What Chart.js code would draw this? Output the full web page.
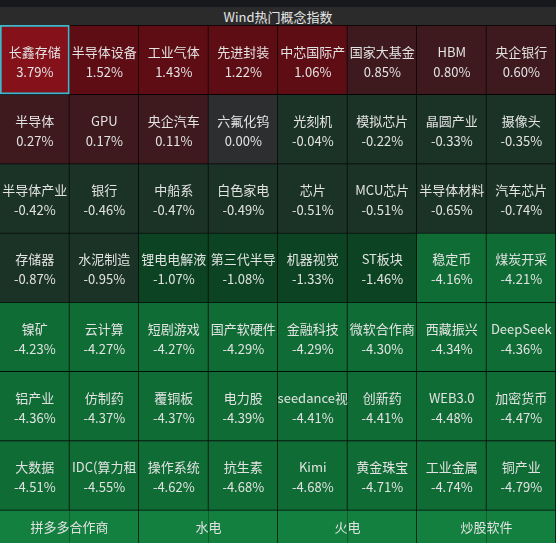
<!DOCTYPE html>
<html>
<head>
<meta charset="utf-8">
<script src="https://cdn.jsdelivr.net/npm/chart.js@4"></script>
<style>
html, body { margin: 0; padding: 0; background: #16181c; overflow: hidden; width: 556px; height: 543px; }
#strip { height: 7px; background: #16181c; }
#title { height: 18px; line-height: 18px; background: #2b2b2b; color: #e6e6e6; text-align: center;
  font: 13px "Noto Sans CJK SC", "Noto Sans", sans-serif; }
#wrap { position: absolute; left: 0; top: 25px; }
</style>
</head>
<body>
<div id="strip"></div>
<div id="title">Wind热门概念指数</div>
<div id="wrap"><canvas id="heat" width="556" height="518"></canvas></div>
<script>
// 8 columns, 7 full rows of concepts, then a short footer row of 4 wide cells
var columns = ['1', '2', '3', '4', '5', '6', '7', '8'];
var fullRows = 7;
var footerHeight = 0.48;   // footer row height, in row units
var footerSpan = 2;        // footer cells are two columns wide

var names = [
  '长鑫存储', '半导体设备', '工业气体', '先进封装', '中芯国际产', '国家大基金', 'HBM', '央企银行',
  '半导体', 'GPU', '央企汽车', '六氟化钨', '光刻机', '模拟芯片', '晶圆产业', '摄像头',
  '半导体产业', '银行', '中船系', '白色家电', '芯片', 'MCU芯片', '半导体材料', '汽车芯片',
  '存储器', '水泥制造', '锂电电解液', '第三代半导', '机器视觉', 'ST板块', '稳定币', '煤炭开采',
  '镍矿', '云计算', '短剧游戏', '国产软硬件', '金融科技', '微软合作商', '西藏振兴', 'DeepSeek',
  '铝产业', '仿制药', '覆铜板', '电力股', 'seedance视', '创新药', 'WEB3.0', '加密货币',
  '大数据', 'IDC(算力租', '操作系统', '抗生素', 'Kimi', '黄金珠宝', '工业金属', '铜产业'
];

var values = [
  3.79, 1.52, 1.43, 1.22, 1.06, 0.85, 0.80, 0.60,
  0.27, 0.17, 0.11, 0.00, -0.04, -0.22, -0.33, -0.35,
  -0.42, -0.46, -0.47, -0.49, -0.51, -0.51, -0.65, -0.74,
  -0.87, -0.95, -1.07, -1.08, -1.33, -1.46, -4.16, -4.21,
  -4.23, -4.27, -4.27, -4.29, -4.29, -4.30, -4.34, -4.36,
  -4.36, -4.37, -4.37, -4.39, -4.41, -4.41, -4.48, -4.47,
  -4.51, -4.55, -4.62, -4.68, -4.68, -4.71, -4.74, -4.79
];

// footer: names only are shown; values are not visible, estimated from the cell shades
var footerNames = ['拼多多合作商', '水电', '火电', '炒股软件'];
var footerValues = [-4.85, -5.10, -5.20, -5.30];

var selected = 0; // highlighted cell

var colorFor = function(v){
    if (v >= 2) return '#85121a';
    if (v >= 1) return '#5e0d14';
    if (v > 0) return '#3e1a1f';
    if (v === 0) return '#2d2e30';
    if (v > -1) return '#1b3327';
    if (v > -2) return '#0c4423';
    if (v > -4.8) return '#0f6c35';
    return '#13803f';
};

// one dataset per row, one floating bar per column
var datasets = [];
for (var r = 0; r <= fullRows; r++){
    var data = [], bg = [], bc = [], bw = [];
    for (var c = 0; c < columns.length; c++){
        if (r < fullRows){
            var idx = r * columns.length + c;
            data.push([r, r + 1]);
            bg.push(colorFor(values[idx]));
            if (idx === selected){
                bc.push('#3cb9cc');
                bw.push({top: 2, right: 2, bottom: 2, left: 2});
            } else {
                bc.push('#000000');
                bw.push({top: 1, right: 1, bottom: 0, left: 0});
            }
        } else {
            var f = Math.floor(c / footerSpan);
            var lastInSpan = (c % footerSpan) === footerSpan - 1;
            data.push([r, r + footerHeight]);
            bg.push(colorFor(footerValues[f]));
            bc.push('#000000');
            bw.push({top: 1, right: lastInSpan ? 1 : 0, bottom: 0, left: 0});
        }
    }
    datasets.push({
        label: 'row' + r,
        data: data,
        backgroundColor: bg,
        borderColor: bc,
        borderWidth: bw,
        borderSkipped: false,
        categoryPercentage: 1,
        barPercentage: 1,
        grouped: false
    });
}

var cellLabels = {
    id: 'cellLabels',
    afterDatasetsDraw: function(chart){
        var ctx = chart.ctx;
        ctx.save();
        ctx.fillStyle = '#e2e2e2';
        ctx.textAlign = 'center';
        ctx.textBaseline = 'middle';
        ctx.font = '13px "Noto Sans CJK SC", "Noto Sans", sans-serif';
        chart.data.datasets.forEach(function(ds, r){
            var els = chart.getDatasetMeta(r).data;
            els.forEach(function(el, c){
                var p = el.getProps(['x', 'y', 'base', 'width'], true);
                var top = Math.min(p.y, p.base), bottom = Math.max(p.y, p.base);
                var left = p.x - p.width / 2, right = p.x + p.width / 2;
                if (r < fullRows){
                    var idx = r * columns.length + c;
                    var cy = (top + bottom) / 2;
                    ctx.save();
                    ctx.beginPath();
                    ctx.rect(left, top, right - left, bottom - top);
                    ctx.clip();
                    ctx.fillText(names[idx], p.x, cy - 8);
                    ctx.fillText(values[idx].toFixed(2) + '%', p.x, cy + 12);
                    ctx.restore();
                } else if (c % footerSpan === 0){
                    var last = els[c + footerSpan - 1].getProps(['x', 'width'], true);
                    var r2 = last.x + last.width / 2;
                    ctx.fillText(footerNames[c / footerSpan], (left + r2) / 2, (top + bottom) / 2 + 1);
                }
            });
        });
        ctx.restore();
    }
};

new Chart(document.getElementById('heat').getContext('2d'), {
    type: 'bar',
    data: { labels: columns, datasets: datasets },
    options: {
        responsive: false,
        animation: false,
        layout: { padding: 0 },
        plugins: { legend: { display: false }, tooltip: { enabled: false }, title: { display: false } },
        scales: {
            x: { type: 'category', display: false },
            y: { type: 'linear', reverse: true, min: 0, max: fullRows + footerHeight, display: false }
        }
    },
    plugins: [cellLabels]
});
</script>
</body>
</html>
